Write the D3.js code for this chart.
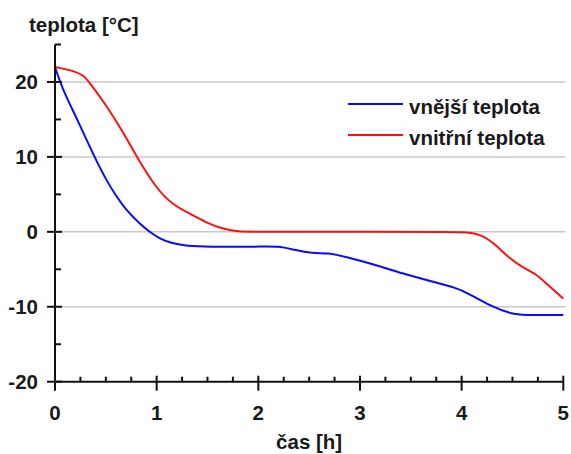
<!DOCTYPE html>
<html>
<head>
<meta charset="utf-8">
<script src="https://cdn.jsdelivr.net/npm/d3@7"></script>
<style>
  html, body { margin: 0; padding: 0; background: #fff; }
  svg { display: block; }
  text { font-family: "Liberation Sans", Arial, sans-serif; font-weight: bold; fill: #1a1a1a; }
</style>
</head>
<body>
<svg id="chart" width="571" height="454"></svg>
<script>
// Outdoor temperature (vnější teplota) over time
const outerHours = [0, 0.05, 0.12, 0.22, 0.38, 0.5, 0.6, 0.7, 0.84, 0.93, 1.03, 1.15, 1.3, 1.5, 2.0, 2.2, 2.35, 2.53, 2.69, 2.85, 3.2, 3.4, 3.7, 3.95, 4.05, 4.28, 4.5, 4.6, 5.0];
const outerTemps = [22, 20, 17.7, 15, 10.2, 7.0, 4.8, 2.9, 1.0, 0, -0.9, -1.55, -1.9, -2, -2, -1.9, -2.4, -2.9, -2.8, -3.3, -4.6, -5.5, -6.6, -7.5, -8.1, -9.9, -11.0, -11.1, -11.1];

// Indoor temperature (vnitřní teplota) over time
const innerHours = [0, 0.18, 0.28, 0.33, 0.51, 0.67, 0.8, 1.0, 1.16, 1.33, 1.49, 1.65, 1.8, 2.0, 3.0, 3.95, 4.05, 4.18, 4.31, 4.48, 4.61, 4.74, 4.84, 5.0];
const innerTemps = [22, 21.5, 20.9, 20.1, 16.8, 13.3, 10.1, 5.7, 3.6, 2.4, 1.2, 0.4, 0, 0, 0, 0, -0.05, -0.3, -1.4, -3.7, -4.8, -5.7, -7.0, -8.9];

const seriesNames = ["vnější teplota", "vnitřní teplota"];
const seriesColors = ["#0a0aff", "#ff1010"];

const xMajorTicks = [0, 1, 2, 3, 4, 5];
const yMajorTicks = [-20, -10, 0, 10, 20];
const yGridTicks = [-10, 0, 10, 20];

const xTitle = "čas [h]";
const yTitle = "teplota [°C]";

const fontSize = 20.5;
const svg = d3.select("#chart");

const x = d3.scaleLinear().domain([0, 5]).range([55, 563.3]);
const y = d3.scaleLinear().domain([-20, 25]).range([381.7, 44.5]);

// Horizontal grid lines
svg.append("g").selectAll("line").data(yGridTicks).join("line")
  .attr("x1", x(0)).attr("x2", x(5) + 2)
  .attr("y1", d => y(d)).attr("y2", d => y(d))
  .attr("stroke", "#c8c8c8").attr("stroke-width", 1.5);

// Series lines
const line = d3.line().curve(d3.curveBasis);
const series = [
  { hours: outerHours, temps: outerTemps },
  { hours: innerHours, temps: innerTemps }
];
svg.append("g").selectAll("path").data(series).join("path")
  .attr("d", s => line(s.hours.map((h, i) => [x(h), y(s.temps[i])])))
  .attr("fill", "none")
  .attr("stroke", (s, i) => seriesColors[i])
  .attr("stroke-width", 2)
  .attr("stroke-linejoin", "round");

// Axes
const axes = svg.append("g").attr("stroke", "#111").attr("stroke-width", 2);
axes.append("line").attr("x1", x(0)).attr("x2", x(0)).attr("y1", y(-20)).attr("y2", y(25));
axes.append("line").attr("x1", x(0)).attr("x2", x(5)).attr("y1", y(-20)).attr("y2", y(-20));

// Y ticks: majors cross the axis, minors point inward
axes.selectAll(".ymaj").data(yMajorTicks).join("line")
  .attr("x1", x(0) - 8).attr("x2", x(0) + 7)
  .attr("y1", d => y(d)).attr("y2", d => y(d));
const yMinor = d3.range(-15, 26, 10);
axes.selectAll(".ymin").data(yMinor).join("line")
  .attr("x1", x(0)).attr("x2", x(0) + 6)
  .attr("y1", d => y(d)).attr("y2", d => y(d));

// X ticks
axes.selectAll(".xmaj").data(xMajorTicks).join("line")
  .attr("x1", d => x(d)).attr("x2", d => x(d))
  .attr("y1", y(-20) - 6).attr("y2", y(-20) + 9);
const xMinor = d3.range(0, 5, 0.25).filter(v => v % 1 !== 0);
axes.selectAll(".xmin").data(xMinor).join("line")
  .attr("x1", d => x(d)).attr("x2", d => x(d))
  .attr("y1", y(-20) - 5).attr("y2", y(-20));

// Tick labels
svg.append("g").selectAll("text").data(yMajorTicks).join("text")
  .attr("x", 38).attr("y", d => y(d)).attr("dy", "0.36em")
  .attr("text-anchor", "end").attr("font-size", fontSize)
  .text(d => d);
svg.append("g").selectAll("text").data(xMajorTicks).join("text")
  .attr("x", d => x(d)).attr("y", 420)
  .attr("text-anchor", "middle").attr("font-size", fontSize)
  .text(d => d);

// Axis titles
svg.append("text").attr("x", (x(0) + x(5)) / 2).attr("y", 449)
  .attr("text-anchor", "middle").attr("font-size", fontSize).text(xTitle);
svg.append("text").attr("x", 29).attr("y", 32)
  .attr("font-size", fontSize).text(yTitle);

// Legend
const legend = svg.append("g").selectAll("g").data(seriesNames).join("g")
  .attr("transform", (d, i) => `translate(348, ${104 + i * 31})`);
legend.append("line").attr("x1", 0).attr("x2", 55)
  .attr("stroke", (d, i) => seriesColors[i]).attr("stroke-width", 2);
legend.append("text").attr("x", 61).attr("y", 10)
  .attr("font-size", fontSize).text(d => d);
</script>
</body>
</html>
